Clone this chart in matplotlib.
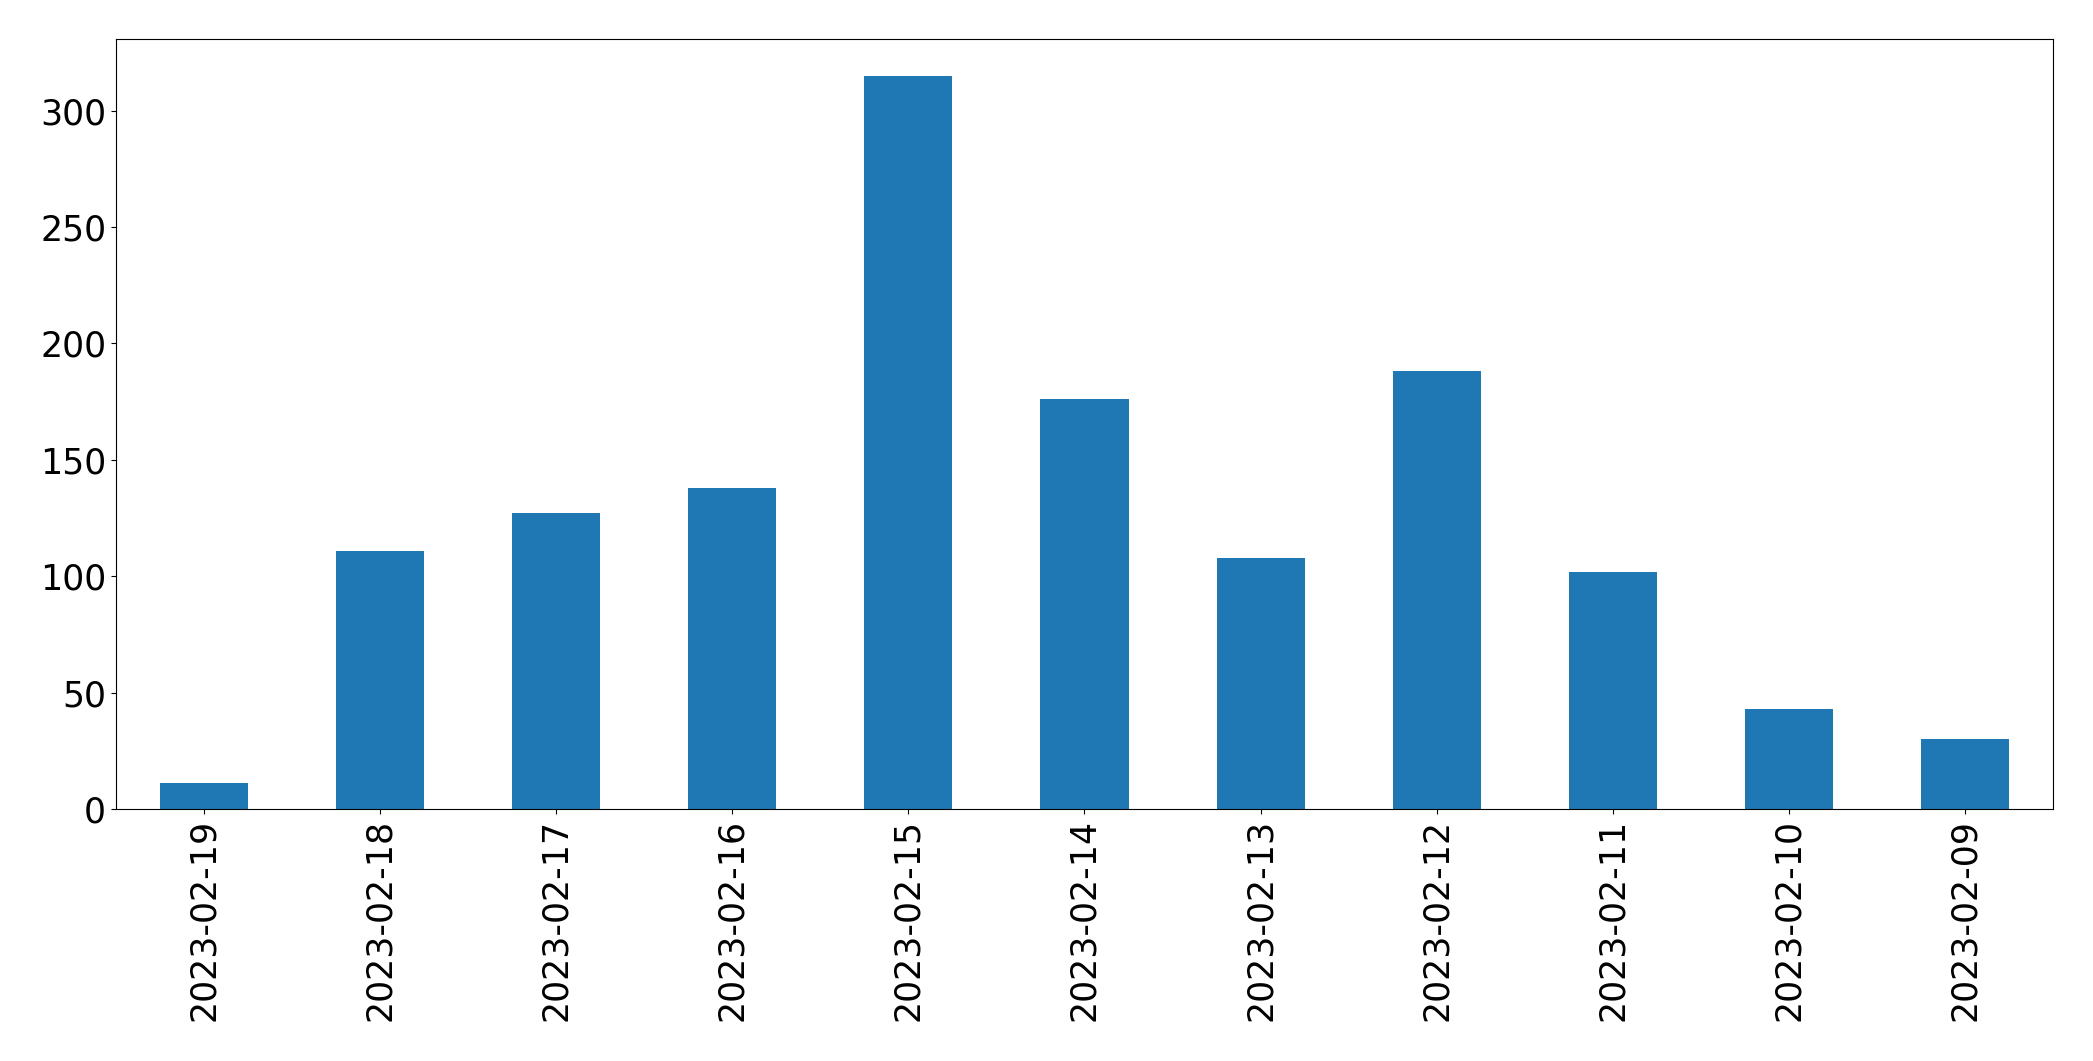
import matplotlib
matplotlib.use("Agg")
import matplotlib.pyplot as plt
import numpy as np

# daily counts, newest first (as in the reference)
dates = ["2023-02-19", "2023-02-18", "2023-02-17", "2023-02-16", "2023-02-15",
         "2023-02-14", "2023-02-13", "2023-02-12", "2023-02-11", "2023-02-10",
         "2023-02-09"]
counts = [11, 111, 127, 138, 315, 176, 108, 188, 102, 43, 30]

fig = plt.figure(figsize=(20.93, 10.61), dpi=100)
ax = fig.add_axes([0.0554, 0.2375, 0.9255, 0.7257])

x = np.arange(len(dates))
ax.bar(x, counts, width=0.5, color="#1f77b4")
ax.set_xlim(-0.5, len(dates) - 0.5)
ax.set_ylim(0, max(counts) * 1.05)
ax.set_xticks(x)
ax.set_xticklabels(dates, rotation=90)
ax.tick_params(labelsize=25)

fig.savefig("out.png", dpi=100)
